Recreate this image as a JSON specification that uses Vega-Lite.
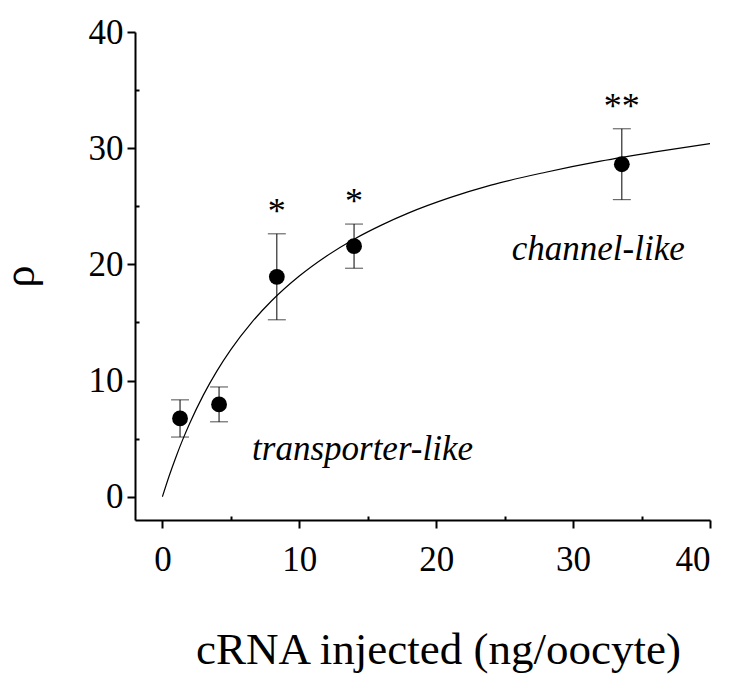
{
  "$schema": "https://vega.github.io/schema/vega-lite/v6.json",
  "width": 575,
  "height": 488,
  "autosize": {"type": "none"},
  "padding": {"left": 135, "top": 32, "right": 21, "bottom": 157},
  "background": "white",
  "config": {
    "view": {"stroke": null},
    "font": "Liberation Serif",
    "axis": {
      "domainColor": "black",
      "domainWidth": 2,
      "tickColor": "black",
      "tickWidth": 2,
      "tickSize": 8,
      "grid": false,
      "labelFont": "Liberation Serif",
      "labelFontSize": 35,
      "labelColor": "black",
      "titleFont": "Liberation Serif",
      "titleFontSize": 45,
      "titleFontWeight": "normal",
      "titleColor": "black"
    }
  },
  "resolve": {"axis": {"x": "independent", "y": "independent"}},
  "datasets": {
    "points": [
      {"dose": 1.29, "rho": 6.74, "lo": 5.14, "hi": 8.34, "sig": ""},
      {"dose": 4.14, "rho": 7.95, "lo": 6.45, "hi": 9.45, "sig": ""},
      {"dose": 8.36, "rho": 18.93, "lo": 15.23, "hi": 22.63, "sig": "*"},
      {"dose": 14.0, "rho": 21.57, "lo": 19.67, "hi": 23.47, "sig": "*"},
      {"dose": 33.56, "rho": 28.62, "lo": 25.57, "hi": 31.67, "sig": "**"}
    ],
    "fit": [
      {"dose": 0, "rho": 0},
      {"dose": 0.5, "rho": 1.81},
      {"dose": 1.0, "rho": 3.45},
      {"dose": 1.5, "rho": 4.96},
      {"dose": 2.0, "rho": 6.33},
      {"dose": 3.0, "rho": 8.77},
      {"dose": 4.0, "rho": 10.86},
      {"dose": 5.0, "rho": 12.67},
      {"dose": 6.5, "rho": 14.97},
      {"dose": 8.0, "rho": 16.89},
      {"dose": 10.0, "rho": 19.0},
      {"dose": 12.0, "rho": 20.73},
      {"dose": 14.0, "rho": 22.17},
      {"dose": 16.0, "rho": 23.38},
      {"dose": 18.0, "rho": 24.43},
      {"dose": 21.0, "rho": 25.74},
      {"dose": 24.0, "rho": 26.82},
      {"dose": 28.0, "rho": 27.93},
      {"dose": 32.0, "rho": 28.88},
      {"dose": 36.0, "rho": 29.68},
      {"dose": 40.0, "rho": 30.4}
    ],
    "notes": [
      {"dose": 6.55, "rho": 3.16, "label": "transporter-like"},
      {"dose": 25.52, "rho": 20.36, "label": "channel-like"}
    ],
    "minor": [
      {"v": 5}, {"v": 15}, {"v": 25}, {"v": 35}
    ]
  },
  "layer": [
    {
      "data": {"name": "fit"},
      "mark": {"type": "line", "color": "black", "strokeWidth": 1.2, "interpolate": "monotone"},
      "encoding": {
        "x": {
          "field": "dose", "type": "quantitative",
          "scale": {"domain": [-2, 40], "nice": false, "zero": false},
          "axis": {
            "orient": "bottom",
            "values": [0, 10, 20, 30, 40],
            "title": "cRNA injected (ng/oocyte)",
            "labelPadding": 14,
            "titlePadding": 50,
            "titleX": 303
          }
        },
        "y": {
          "field": "rho", "type": "quantitative",
          "scale": {"domain": [-2, 40], "nice": false, "zero": false},
          "axis": {
            "orient": "left",
            "values": [0, 10, 20, 30, 40],
            "title": "ρ",
            "labelPadding": 4,
            "titlePadding": 46
          }
        }
      }
    },
    {
      "data": {"name": "minor"},
      "mark": {"type": "rule", "opacity": 0},
      "encoding": {
        "x": {
          "field": "v", "type": "quantitative",
          "axis": {"orient": "bottom", "values": [5, 15, 25, 35], "tickSize": -4, "labels": false, "domain": false, "title": null}
        }
      }
    },
    {
      "data": {"name": "minor"},
      "mark": {"type": "rule", "opacity": 0},
      "encoding": {
        "y": {
          "field": "v", "type": "quantitative",
          "axis": {"orient": "left", "values": [5, 15, 25, 35], "tickSize": -4, "labels": false, "domain": false, "title": null}
        }
      }
    },
    {
      "data": {"name": "points"},
      "mark": {"type": "rule", "color": "black", "strokeWidth": 1},
      "encoding": {
        "x": {"field": "dose", "type": "quantitative", "axis": null},
        "y": {"field": "lo", "type": "quantitative", "axis": null},
        "y2": {"field": "hi"}
      }
    },
    {
      "data": {"name": "points"},
      "mark": {"type": "tick", "orient": "horizontal", "color": "black", "size": 18, "thickness": 1},
      "encoding": {
        "x": {"field": "dose", "type": "quantitative", "axis": null},
        "y": {"field": "lo", "type": "quantitative", "axis": null}
      }
    },
    {
      "data": {"name": "points"},
      "mark": {"type": "tick", "orient": "horizontal", "color": "black", "size": 18, "thickness": 1},
      "encoding": {
        "x": {"field": "dose", "type": "quantitative", "axis": null},
        "y": {"field": "hi", "type": "quantitative", "axis": null}
      }
    },
    {
      "data": {"name": "points"},
      "mark": {"type": "circle", "color": "black", "opacity": 1, "size": 250},
      "encoding": {
        "x": {"field": "dose", "type": "quantitative", "axis": null},
        "y": {"field": "rho", "type": "quantitative", "axis": null}
      }
    },
    {
      "data": {"name": "points"},
      "mark": {"type": "text", "fontSize": 36, "font": "Liberation Serif", "color": "black", "align": "center", "baseline": "alphabetic", "dy": -11},
      "encoding": {
        "x": {"field": "dose", "type": "quantitative", "axis": null},
        "y": {"field": "hi", "type": "quantitative", "axis": null},
        "text": {"field": "sig"}
      }
    },
    {
      "data": {"name": "notes"},
      "mark": {"type": "text", "fontSize": 35, "font": "Liberation Serif", "fontStyle": "italic", "color": "black", "align": "left", "baseline": "alphabetic"},
      "encoding": {
        "x": {"field": "dose", "type": "quantitative", "axis": null},
        "y": {"field": "rho", "type": "quantitative", "axis": null},
        "text": {"field": "label"}
      }
    }
  ]
}
